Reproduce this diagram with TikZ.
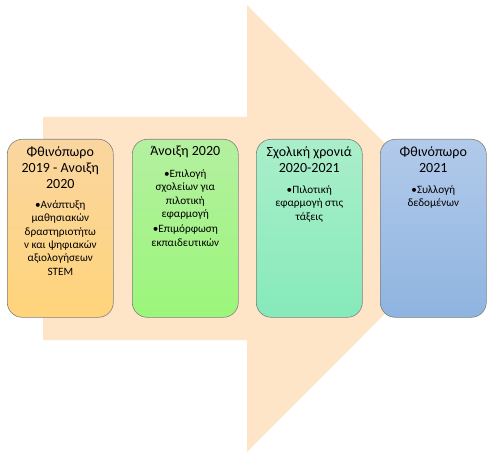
\documentclass[tikz,border=0pt]{standalone}
\usepackage{fontspec}
\setmainfont{Carlito}
\begin{document}
\begin{tikzpicture}[x=1pt,y=-1pt,
  box/.style={draw=black!50,line width=0.6pt,rounded corners=15pt,minimum width=106pt,minimum height=178pt,inner sep=0pt,anchor=north west},
  head/.style={anchor=north,align=center,inner sep=0pt,font=\fontsize{14}{16}\selectfont},
  bul/.style={anchor=north,align=center,inner sep=0pt,font=\fontsize{11.2}{13.3}\selectfont}]
\useasboundingbox (0,0) rectangle (492,457);
% big arrow
\fill[fill={rgb,255:red,255;green,229;blue,200}] (43,117) -- (247,117) -- (247,5) -- (470,228.5) -- (247,452) -- (247,340) -- (43,340) -- cycle;
% boxes
\node[box,top color={rgb,255:red,250;green,214;blue,160},bottom color={rgb,255:red,255;green,212;blue,122}] (b1) at (7,139) {};
\node[box,top color={rgb,255:red,180;green,240;blue,160},bottom color={rgb,255:red,155;green,246;blue,122}] (b2) at (132,139) {};
\node[box,top color={rgb,255:red,170;green,238;blue,202},bottom color={rgb,255:red,134;green,234;blue,186}] (b3) at (256,139) {};
\node[box,top color={rgb,255:red,178;green,202;blue,234},bottom color={rgb,255:red,142;green,180;blue,224}] (b4) at (380,139) {};
% texts
\node[head] (h1) at ([yshift=-7pt]b1.north) {Φθινόπωρο\\2019 - Ανοιξη\\2020};
\node[bul] (t1) at ([yshift=-61.5pt]b1.north) {•Ανάπτυξη\\μαθησιακών\\δραστηριοτήτω\\ν και ψηφιακών\\αξιολογήσεων\\STEM};
\node[head] (h2) at ([yshift=-7pt]b2.north) {Άνοιξη 2020};
\node[bul] (t2) at ([yshift=-30.5pt]b2.north) {•Επιλογή\\σχολείων για\\πιλοτική\\εφαρμογή\\[2pt]•Επιμόρφωση\\εκπαιδευτικών};
\node[head] (h3) at ([yshift=-7pt]b3.north) {Σχολική χρονιά\\2020-2021};
\node[bul] (t3) at ([yshift=-46.5pt]b3.north) {•Πιλοτική\\εφαρμογή στις\\τάξεις};
\node[head] (h4) at ([yshift=-7pt]b4.north) {Φθινόπωρο\\2021};
\node[bul] (t4) at ([yshift=-46.5pt]b4.north) {•Συλλογή\\δεδομένων};
\end{tikzpicture}
\end{document}
